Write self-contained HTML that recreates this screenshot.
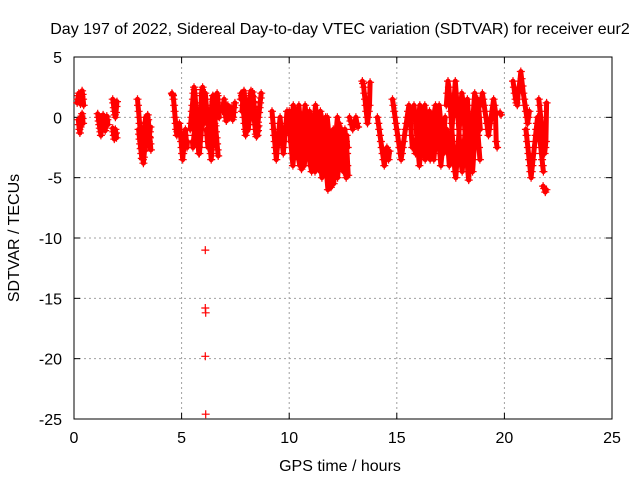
<!DOCTYPE html>
<html><head><meta charset="utf-8"><style>
body{margin:0;background:#fff;}
svg{display:block;font-family:"Liberation Sans",Arial,sans-serif;}
</style></head><body>
<svg id="chart" width="640" height="480">
<text x="340" y="34" font-size="16" text-anchor="middle">Day 197 of 2022, Sidereal Day-to-day VTEC variation (SDTVAR) for receiver eur2</text>
<text x="340" y="471" font-size="16" text-anchor="middle">GPS time / hours</text>
<text transform="translate(19,238) rotate(-90)" font-size="16" text-anchor="middle">SDTVAR / TECUs</text>
<g id="grid"></g>
<g id="axes"></g>
<g id="points"></g>
</svg>
<script>
const xTicks=[0,5,10,15,20,25];
const yTicks=[5,0,-5,-10,-15,-20,-25];
// tracks: start time (h), step (h), values (TECU)
const trackStarts=[0.15,0.2,1.1,1.8,1.8,2.95,3.0,4.55,4.9,5.4,5.5,6.1,6.15,6.9,7.75,7.8,9.2,10.0,10.02,10.04,12.8,13.4,14.1,14.8,15.8,15.82,17.3,17.32,18.9,19.8,20.4,21.0,21.6,21.8];
const trackSteps=[0.025,0.025,0.025,0.025,0.025,0.025,0.025,0.025,0.025,0.025,0.025,0.025,0.025,0.025,0.025,0.025,0.025,0.05,0.05,0.05,0.05,0.03,0.04,0.04,0.05,0.05,0.04,0.04,0.04,0.04,0.04,0.03,0.03,0.05];
const trackValues=[
[1.2,1.5,1.8,2.0,1.6,1.3,1.1,1.4,1.7,2.2,1.9,1.5,1.0],
[-0.2,-0.6,-1.0,-1.3,-0.8,-0.4,0.1,0.3,-0.1,-0.5],
[0.3,0,-0.3,-0.6,-0.9,-1.2,-1.5,-1.0,-0.6,-0.2,0.2,0,-0.4,-0.8,-1.1,-0.7,-0.3,0.1,-0.2,-0.6],
[1.5,1.2,0.8,0.5,0.2,0,0.4,0.9,1.3],
[-0.9,-1.2,-1.5,-1.8,-1.4,-1.0,-1.3,-1.7],
[1.5,1.0,0.5,0,-0.5,-1,-1.5,-2,-2.5,-3,-3.5,-3.8,-3.3,-2.8,-2.3,-1.8,-1.3,-0.8,-0.3,0.2,-0.2,-0.7,-1.2,-1.7,-2.2,-2.7],
[-1,-1.4,-1.8,-2.2,-2.6,-3.0,-3.4,-3.0,-2.5,-2,-1.5,-1,-0.5,0,-0.4,-0.9,-1.4,-1.9,-2.4,-2.0,-1.6,-1.2,-0.8],
[2.0,1.9,1.8,1.5,1.0,0.5,0,-0.5,-1,-1.5,-1.2,-0.8],
[-0.5,-1,-1.5,-2,-2.5,-3,-3.5,-3,-2.5,-2,-1.5,-1,-1.5,-2,-2.5,-2],
[-1,-0.5,0,0.5,1,1.5,2,2.5,2.3,1.8,1.2,0.6,0,-0.6,-1.2,-1.8,-2.4,-3,-2.5,-2,-1.5,-1,-0.5,0,0.5,1,1.5,2],
[-2,-2.5,-2,-1.5,-1,-0.5,0,-0.5,-1,-1.5,-2,-2.5,-3,-2,-1,0,1,2,2.3,2.5,1.5,0.5,-0.5],
[2,1.5,1,0.5,0,-0.5,-1,-1.5,-2,-2.5,-3,-3.5,-3,-2.5,-2,-1.5,-1,-0.5,0,0.5,1,1.5,2,1.8,1.2,0.6,0],
[-1,-1.5,-2,-2.5,-2,-1.5,-1,-0.5,0,0.5,1,1.5,1.8,1.3,0.8,0.3,-0.2,-0.7,-1.2,-1.7,-2.2,-2.7,-3.2],
[0.5,0.8,1.2,1.5,1.0,0.5,0,-0.3,0.2,0.6,1.0,0.7,0.3,0,0.2,0.5,0.8,0.4,0.1,-0.2,0,0.4,0.8,1.2],
[1.5,2.0,1.8,1.5,1.0,0.5,0,-0.5,-1,-1.5,-1.2,-0.8,-0.4,0,0.4,0.8,1.2,1.6,2.0,2.2,1.8,1.4,1.0,0.6,0.2,-0.2,-0.6,-1,-1.4,-1.6,-1.2,-0.8,-0.4,0,0.4,0.8,1.2,1.6,2],
[0.5,1,1.5,2,2.2,1.8,1.4,1,0.6,0.2,-0.2,-0.6,-1,-0.6,-0.2,0.2,0.6,1,1.4,1.8,2.1,1.7,1.3,0.9,0.5,0.1,-0.3,-0.7,-1.1,-1.5,-1.1,-0.7],
[0.5,0,-0.5,-1,-1.5,-2,-2.5,-3,-3.5,-3,-2.5,-2,-1.5,-1,-0.5,0,-0.5,-1,-1.5,-2,-2.5,-3,-2.5,-2,-1.5,-1,-0.5,0,0.5,0,-0.5],
[0.5,-0.5,-1.5,-2.5,-3.5,-2.5,-1.5,-0.5,0.5,1,0,-1,-2,-3,-4,-3,-2,-1,0,0.5,-0.5,-1.5,-2.5,-3.5,-4.5,-3.5,-2.5,-1.5,-0.5,0.5,0,-1,-2,-3,-4,-5,-6,-5,-4,-3,-2,-1,-2,-3,-4,-5,-4,-3,-2,-1,-2,-3,-4,-5,-4],
[-1,-2,-3,-4,-3,-2,-1,0,-1,-2,-3,-4.3,-3,-2,-1,0,-1,-2,-3,-4,-3,-2,-1,0,1,0,-1,-2,-3,-4,-5,-4,-3,-2,-1,0,-1,-2,-3,-4,-5,-5.5,-4.5,-3.5,-2.5,-1.5,-0.5,-1.5,-2.5,-3.5,-4.5,-3.5,-2.5,-1.5,-2.5],
[-2,-1,0,1,0.5,-0.5,-1.5,-2.5,-3.5,-4,-3,-2,-1,0,1,0,-1,-2,-3,-4,-4.5,-3.5,-2.5,-1.5,-0.5,-1.5,-2.5,-3.5,-4.5,-3.5,-2.5,-1.5,-0.5,0,-1,-2,-3,-4,-5.8,-5,-4,-3,-2,-1,0,-1,-2,-3,-4,-3,-2,-1,-2,-3,-4.8],
[0,-0.3,-0.6,-1,-0.7,-0.4,0,-0.5,-0.8],
[3,2.8,2.5,2,1.5,1,0.5,0,-0.5,0,0.5,1,2.9],
[0,-0.5,-1,-1.5,-2,-2.5,-3,-3.5,-4,-3.5,-3,-2.5,-3,-3.5,-2.8],
[1.5,1,0.5,0,-0.5,-1,-1.5,-2,-2.5,-3,-3.5,-3,-2.5,-2,-1.5,-1,-0.5,0,0.5,1,0.5,-0.5,-1.5,-2.5],
[1,0,-1,-2,-3,-4,-3,-2,-1,0,1,0,-1,-2,-3,-3.5,-2.5,-1.5,-0.5,0.5,1,0,-1,-2,-3,-4,-3,-2,-1,0],
[-2,-3,-2,-1,0,1,0.5,-0.5,-1.5,-2.5,-3.5,-2.5,-1.5,-0.5,0.5,-0.5,-1.5,-2.5,-3.5,-2.5,-1.5,-0.5,0.5,1,0,-1,-2,-3,-2,-1],
[1,2,3,2.5,1.5,0.5,-0.5,-1.5,-2.5,-3.5,-4.5,-5,-4,-3,-2,-1,0,1,2,1.5,0.5,-0.5,-1.5,-2.5,-3.5,-4.5,-5.2,-4,-3,-2,-1,0,1,2,1.5,0.5,-0.5,-1.5,-2.5,-3.5],
[-1,-2,-3,-4,-3,-2,-1,0,1,2,3,2,1,0,-1,-2,-3,-4,-4.5,-3.5,-2.5,-1.5,-0.5,0.5,1.5,0.5,-0.5,-1.5,-2.5,-3.5,-4.5,-3.5,-2.5,-1.5,-0.5,0.5,1.5,1,0,-1],
[1,1.5,2,1.5,1,0.5,0,-0.5,-1,-1.5,-1,-0.5,0,0.5,1,1.5,1,0.5,-2,-2.5],
[0.4,0.2],
[3,2.5,2,1.5,1.2,1,2,2.5,3,3.8,3.2,2.6,2,1.5,1,0.5,0,-0.5,0,0.5],
[-1,-1.5,-2,-2.5,-3,-3.5,-4,-4.5,-5,-4.5,-4,-3.5,-3,-2.5,-2,-1.5,-1,-0.5,0,-0.5,-1,-1.5,-2,-2.5,-3,-3.5,-4,-4.5],
[1.5,1,0.5,0,-0.5,-1,-1.5,-2,-2.5,-3,-2.5,-2,1.2],
[-5.7,-5.9,-6.2,-6.0]
];
const outlierTimes=[6.1,6.1,6.12,6.1,6.12];
const outlierValues=[-11,-15.8,-16.2,-19.8,-24.6];

const L=74,R=612,T=57,B=419;
const xMin=0,xMax=25,yMin=-25,yMax=5;
function xs(v){return L+(v-xMin)/(xMax-xMin)*(R-L);}
function ys(v){return B-(v-yMin)/(yMax-yMin)*(B-T);}
const NS='http://www.w3.org/2000/svg';
function mk(tag,attrs,parent){const e=document.createElementNS(NS,tag);for(const k in attrs)e.setAttribute(k,attrs[k]);parent.appendChild(e);return e;}
const grid=document.getElementById('grid'),axes=document.getElementById('axes'),pts=document.getElementById('points');
xTicks.forEach(t=>{const x=xs(t);
 if(t>xMin&&t<xMax){const g=mk('line',{x1:x,x2:x,y1:T,y2:B,stroke:'#a0a0a0','stroke-dasharray':'2,3'},grid);
 
 }
 mk('line',{x1:x,x2:x,y1:B,y2:B-6,stroke:'#000'},axes);
 mk('line',{x1:x,x2:x,y1:T,y2:T+6,stroke:'#000'},axes);
 const lb=mk('text',{x:x,y:443,'font-size':16,'text-anchor':'middle'},axes);lb.textContent=t;
 
 
});
yTicks.forEach(t=>{const y=ys(t);
 if(t>yMin&&t<yMax){const g=mk('line',{x1:L,x2:R,y1:y,y2:y,stroke:'#a0a0a0','stroke-dasharray':'2,3'},grid);
 
 }
 mk('line',{x1:L,x2:L+6,y1:y,y2:y,stroke:'#000'},axes);
 mk('line',{x1:R,x2:R-6,y1:y,y2:y,stroke:'#000'},axes);
 const lb=mk('text',{x:62,y:y+6,'font-size':16,'text-anchor':'end'},axes);lb.textContent=t;
 
 
});
const frame=mk('rect',{x:L,y:T,width:R-L,height:B-T,fill:'none',stroke:'#000'},axes);


let d='',fillD='';
function plus(t,v){const x=xs(t),y=ys(v);d+=`M${(x-4).toFixed(1)} ${y.toFixed(1)}h8M${x.toFixed(1)} ${(y-4).toFixed(1)}v8`;}
trackValues.forEach((vals,i)=>{
 vals.forEach((v,j)=>{const t=trackStarts[i]+j*trackSteps[i];plus(t,v);
  fillD+=(j?'L':'M')+xs(t).toFixed(1)+' '+ys(v).toFixed(1);});
});
outlierValues.forEach((v,i)=>plus(outlierTimes[i],v));
const f=mk('path',{d:fillD,stroke:'#ff0000','stroke-width':5,fill:'none','stroke-linejoin':'round','stroke-linecap':'round'},pts);


const p=mk('path',{d:d,stroke:'#ff0000','stroke-width':1.2,fill:'none'},pts);


</script>
</body></html>
